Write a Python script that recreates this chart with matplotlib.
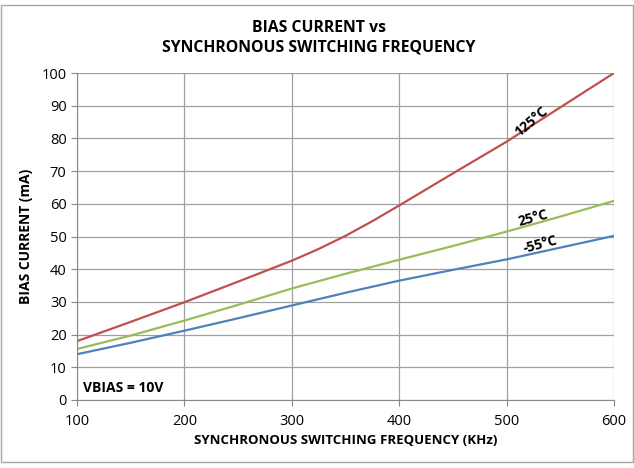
import matplotlib.pyplot as plt
from matplotlib.patches import Rectangle

# --- Datos ---
freq_khz = [100, 150, 200, 250, 300, 350, 400, 450, 500, 550, 600]
bias_25c = [15.6, 19.7, 24.3, 29.1, 34.1, 38.6, 42.9, 47.1, 51.5, 56.1, 60.9]
bias_m55c = [14.0, 17.5, 21.2, 25.0, 28.9, 32.8, 36.5, 39.8, 43.0, 46.6, 50.2]

freq_125 = [100, 150, 200, 250, 275, 300, 325, 350, 375, 400, 450, 500, 550, 600]
bias_125c = [18.0, 23.9, 29.9, 36.2, 39.4, 42.6, 46.2, 50.2, 54.7, 59.5, 69.3, 79.0, 89.5, 100.0]

x_ticks = [100, 200, 300, 400, 500, 600]
y_ticks = [0, 10, 20, 30, 40, 50, 60, 70, 80, 90, 100]

plt.rcParams['font.family'] = ['Open Sans', 'DejaVu Sans']

fig = plt.figure(figsize=(6.34, 4.68), dpi=100)
ax = fig.add_axes([0.1215, 0.1453, 0.847, 0.6987])

# borde exterior del gráfico
fig.patches.append(Rectangle((0.002, 0.012), 0.996, 0.978, transform=fig.transFigure,
                             fill=False, edgecolor='#a6a6a6', linewidth=1.0))

ax.plot(freq_125, bias_125c, color='#C0504D', linewidth=1.6)
ax.plot(freq_khz, bias_25c, color='#9BBB59', linewidth=1.6)
ax.plot(freq_khz, bias_m55c, color='#4F81BD', linewidth=1.6)

ax.set_xlim(100, 600)
ax.set_ylim(0, 100)
ax.set_xticks(x_ticks)
ax.set_yticks(y_ticks)
ax.grid(True, color='#a0a0a0', linewidth=0.9)
ax.set_axisbelow(True)
for s in ['top', 'right']:
    ax.spines[s].set_visible(False)
for s in ['left', 'bottom']:
    ax.spines[s].set_color('#888888')
ax.tick_params(colors='#888888', length=4, width=0.8, labelcolor='black', labelsize=10.5)
ax.tick_params(axis='x', pad=6)

ax.set_xlabel('SYNCHRONOUS SWITCHING FREQUENCY (KHz)', fontsize=9.5, fontweight='bold', labelpad=4)
ax.set_ylabel('BIAS CURRENT (mA)', fontsize=10, fontweight='bold', labelpad=6)
fig.text(0.503, 0.919, 'BIAS CURRENT vs\nSYNCHRONOUS SWITCHING FREQUENCY', ha='center', va='center',
         fontsize=11.3, fontweight='bold', linespacing=1.3)

# etiquetas de las curvas
ax.text(523, 85, '125°C', rotation=40, fontsize=10, fontweight='bold', ha='center', va='center')
ax.text(525, 55.5, '25°C', rotation=15, fontsize=10, fontweight='bold', ha='center', va='center')
ax.text(531, 47.5, '-55°C', rotation=15, fontsize=10, fontweight='bold', ha='center', va='center')
ax.text(106, 3.8, 'VBIAS = 10V', fontsize=10, fontweight='bold', ha='left', va='center')

plt.savefig('out.png', dpi=100)
